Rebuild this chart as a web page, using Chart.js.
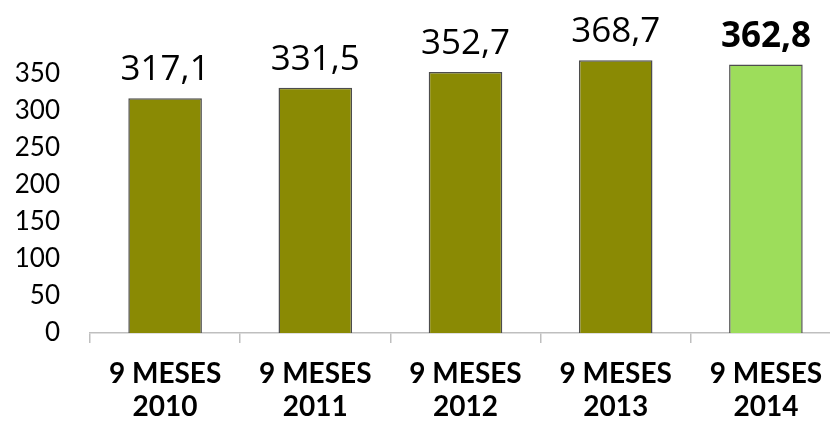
<!DOCTYPE html>
<html>
<head>
<meta charset="utf-8">
<script src="https://cdn.jsdelivr.net/npm/chart.js@4"></script>
<style>
  body { margin: 0; overflow: hidden; background: #fff; }
  #caja { width: 841px; height: 424px; }
</style>
</head>
<body>
<div id="caja"><canvas id="myChart"></canvas></div>
<script>
// datos
var categorias = [['9 MESES', '2010'], ['9 MESES', '2011'], ['9 MESES', '2012'], ['9 MESES', '2013'], ['9 MESES', '2014']];
var valores = [317.1, 331.5, 352.7, 368.7, 362.8];
var colores = ['#8a8a04', '#8a8a04', '#8a8a04', '#8a8a04', '#9ddd5b'];
var negrita = [false, false, false, false, true];
var ticksY = [0, 50, 100, 150, 200, 250, 300, 350];

function formato(v) {
    return v.toFixed(1).replace('.', ',');
}

var etiquetas = {
    id: 'etiquetas',
    afterDatasetsDraw: function(chart) {
        var ctx = chart.ctx;
        chart.getDatasetMeta(0).data.forEach(function(bar, i) {
            ctx.save();
            ctx.font = (negrita[i] ? 'bold ' : '') + '35px "Open Sans"';
            ctx.fillStyle = '#000';
            ctx.textAlign = 'center';
            ctx.textBaseline = 'alphabetic';
            ctx.fillText(formato(valores[i]), bar.x, bar.y - 18);
            ctx.restore();
        });
    }
};

var ctx = document.getElementById('myChart');
new Chart(ctx, {
    type: 'bar',
    data: {
        labels: categorias,
        datasets: [{
            data: valores,
            backgroundColor: colores,
            borderColor: '#4d4d4d',
            borderWidth: 1.5,
            categoryPercentage: 1,
            barPercentage: 0.49
        }]
    },
    options: {
        responsive: true,
        maintainAspectRatio: false,
        animation: false,
        layout: { padding: { top: 37, left: 0, right: 0, bottom: 0 } },
        plugins: {
            legend: { display: false },
            tooltip: { enabled: false }
        },
        scales: {
            x: {
                grid: { drawOnChartArea: false, offset: true, tickLength: 10, color: '#bfbfbf', lineWidth: 1.5 },
                border: { display: true, color: '#bfbfbf', width: 1.5 },
                ticks: {
                    color: '#000',
                    padding: 14,
                    maxRotation: 0,
                    font: { family: 'Lato', size: 28, weight: 'bold', lineHeight: 1.18 }
                },
                afterFit: function(scale) { scale.height = 91; }
            },
            y: {
                min: 0,
                max: 400,
                grid: { display: false, drawTicks: false },
                border: { display: false },
                afterBuildTicks: function(scale) {
                    scale.ticks = ticksY.map(function(v) { return { value: v }; });
                },
                ticks: {
                    color: '#000',
                    padding: 30,
                    font: { family: 'Lato', size: 26 }
                },
                afterFit: function(scale) {
                    scale.width = 90;
                    scale.paddingTop = 0;
                    scale.paddingBottom = 0;
                }
            }
        }
    },
    plugins: [etiquetas]
});
</script>
</body>
</html>
